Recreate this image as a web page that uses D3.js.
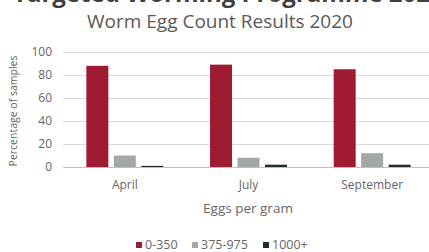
<!DOCTYPE html>
<html>
<head>
<meta charset="utf-8">
<script src="https://cdn.jsdelivr.net/npm/d3@7"></script>
<style>
  body { margin: 0; background: #fff; }
  svg { display: block; font-family: "Open Sans", sans-serif; }
</style>
</head>
<body>
<svg id="chart" width="429" height="252"></svg>
<script>
const months = ["April", "July", "September"];
const series = ["0-350", "375-975", "1000+"];
const values = [
  [88, 10, 1],
  [89, 8, 2],
  [85, 12, 2]
];
const yTicks = [0, 20, 40, 60, 80, 100];
const colors = ["#9e1b32", "#a3a7a8", "#1f2d2f"];

var svg = d3.select("#chart");

const plotLeft = 63, plotRight = 434, plotTop = 52, plotBottom = 167;

var x0 = d3.scaleBand().domain(months).range([plotLeft, plotRight]);
var x1 = d3.scaleBand().domain(series).range([0, x0.bandwidth()])
  .paddingInner(0.2).paddingOuter(0.85);
var y = d3.scaleLinear().domain([0, 100]).range([plotBottom, plotTop]);

// main title, cut off at the very top like the source
svg.append("text")
  .attr("x", 13).attr("y", 2)
  .attr("font-size", 24).attr("font-weight", "bold")
  .attr("fill", "#404040")
  .text("Targeted Worming Programme 2020");

svg.append("text")
  .attr("x", 220).attr("y", 28)
  .attr("text-anchor", "middle")
  .attr("font-size", 19).attr("fill", "#595959")
  .text("Worm Egg Count Results 2020");

// gridlines
var yAxis = d3.axisLeft(y).tickValues(yTicks).tickSize(-(plotRight - plotLeft)).tickPadding(11);
var gy = svg.append("g").attr("transform", `translate(${plotLeft},0)`).call(yAxis);
gy.select(".domain").remove();
gy.selectAll(".tick line").attr("stroke", "#d9d9d9").attr("stroke-width", 1.2);
gy.selectAll(".tick text").attr("fill", "#666").attr("font-size", 12)
  .attr("font-family", "Open Sans, sans-serif");

// bars
var groups = svg.append("g").selectAll("g")
  .data(values)
  .join("g")
  .attr("transform", (d, i) => `translate(${x0(months[i])},0)`);

groups.selectAll("rect")
  .data(d => d.map((v, j) => ({ key: series[j], v: v, j: j })))
  .join("rect")
  .attr("x", d => x1(d.key))
  .attr("y", d => y(d.v))
  .attr("width", x1.bandwidth())
  .attr("height", d => y(0) - y(d.v))
  .attr("fill", d => colors[d.j]);

// x axis
var xAxis = d3.axisBottom(x0).tickSize(0).tickPadding(13);
var gx = svg.append("g").attr("transform", `translate(0,${plotBottom})`).call(xAxis);
gx.select(".domain").attr("stroke", "#bfbfbf").attr("stroke-width", 1.2);
gx.selectAll(".tick text").attr("fill", "#666").attr("font-size", 12)
  .attr("font-family", "Open Sans, sans-serif");

svg.append("text")
  .attr("x", 248).attr("y", 213)
  .attr("text-anchor", "middle")
  .attr("font-size", 13.5).attr("fill", "#666")
  .text("Eggs per gram");

svg.append("text")
  .attr("transform", "translate(17,111) rotate(-90)")
  .attr("text-anchor", "middle")
  .attr("font-size", 10.5).attr("fill", "#666")
  .text("Percentage of samples");

// legend
const legendX = [136, 192, 263];
var legend = svg.append("g").selectAll("g")
  .data(series)
  .join("g")
  .attr("transform", (d, i) => `translate(${legendX[i]},242)`);
legend.append("rect").attr("width", 6).attr("height", 6)
  .attr("fill", (d, i) => colors[i]);
legend.append("text").attr("x", 9).attr("y", 6.5)
  .attr("font-size", 12.5).attr("fill", "#666")
  .text(d => d);
</script>
</body>
</html>
